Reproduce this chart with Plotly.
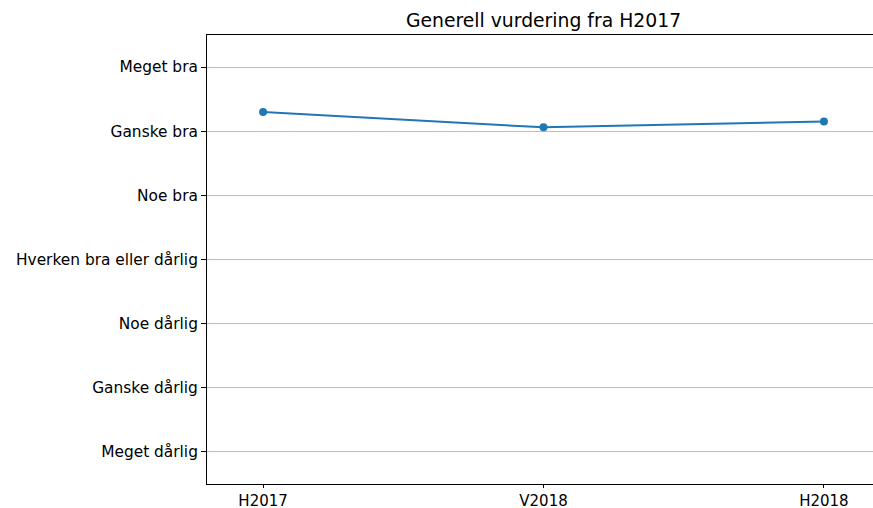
import plotly.graph_objects as go

periods = ["H2017", "V2018", "H2018"]
scores = [6.30, 6.06, 6.15]
level_values = [1, 2, 3, 4, 5, 6, 7]
level_labels = ["Meget dårlig", "Ganske dårlig", "Noe dårlig", "Hverken bra eller dårlig",
                "Noe bra", "Ganske bra", "Meget bra"]

W, H = 873, 508
L, T, B = 207, 35, 24

fig = go.Figure()
fig.add_trace(go.Scatter(
    x=[0, 1, 2], y=scores, mode="lines+markers",
    line=dict(color="#1f77b4", width=2),
    marker=dict(color="#1f77b4", size=8),
    hoverinfo="skip", showlegend=False,
))

font = dict(family="DejaVu Sans", size=15.4, color="black")
xfont = dict(family="DejaVu Sans", size=15, color="black")
fig.update_layout(
    template="none",
    width=W, height=H,
    margin=dict(l=L, r=0, t=T, b=B, pad=0),
    paper_bgcolor="white", plot_bgcolor="white",
    font=font,
    title=dict(text="Generell vurdering fra H2017", x=(L + 880) / 2 / W, xanchor="center",
               xref="container", yref="container", y=1 - 20 / H, yanchor="middle",
               font=dict(family="DejaVu Sans", size=18.8, color="black")),
    xaxis=dict(
        automargin=False,
        range=[-0.2, 2.175], tickmode="array", tickvals=[0, 1, 2], ticktext=periods,
        showgrid=False, zeroline=False, showline=True, linecolor="black", linewidth=1,
        mirror=True, ticks="outside", ticklen=3, tickcolor="black", tickwidth=1,
        tickfont=xfont,
    ),
    yaxis=dict(
        automargin=False,
        range=[0.5, 7.5], tickmode="array", tickvals=level_values, ticktext=level_labels,
        showgrid=True, gridcolor="#bdbdbd", gridwidth=1, zeroline=False,
        showline=True, linecolor="black", linewidth=1, mirror=False,
        ticks="outside", ticklen=5, tickcolor="black", tickwidth=1,
        tickfont=font,
    ),
)

fig.write_html(
    "out.html",
    config={"responsive": False, "displayModeBar": False},
    post_script="document.body.style.margin='0';document.body.style.overflow='hidden';",
)
